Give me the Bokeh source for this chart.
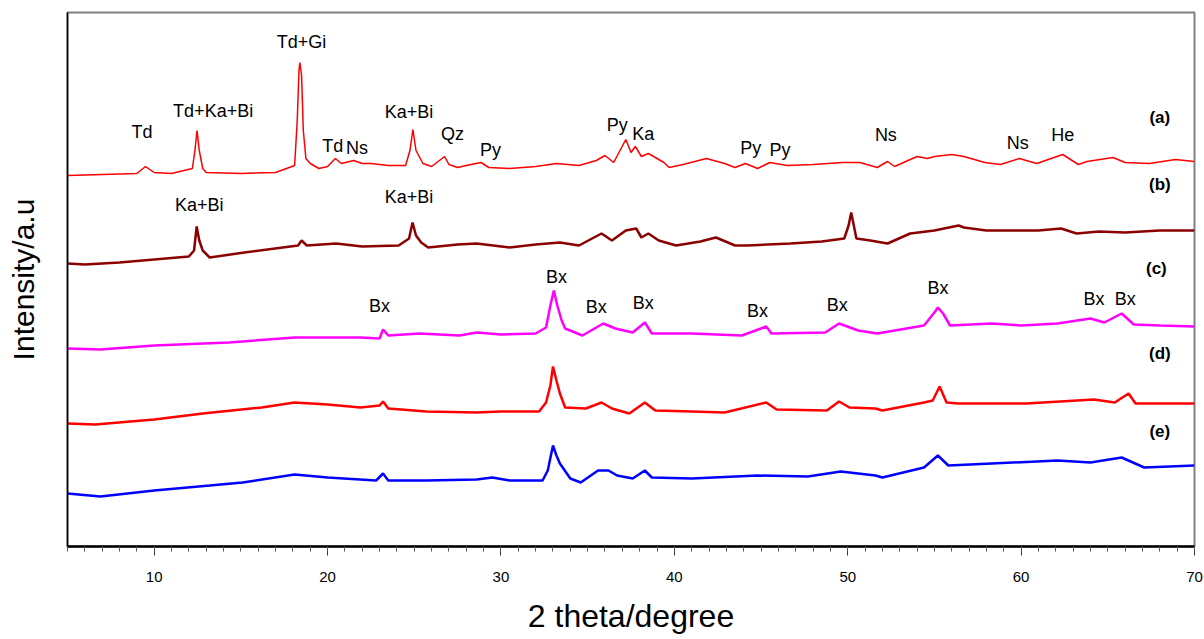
from bokeh.plotting import figure
from bokeh.models import Range1d, FixedTicker, ColumnDataSource
from bokeh.core.properties import value
from bokeh.embed import file_html
from bokeh.resources import INLINE

# ---- data (2theta in degree, intensity in a.u. incl. vertical offset) ----
xa = [5, 7, 9, 9.5, 10, 11, 12.2, 12.35, 12.47, 12.6, 12.8, 13, 15, 17, 18.1, 18.25, 18.35, 18.4, 18.5, 18.6, 18.75,
      19.0, 19.5, 20.0, 20.45, 20.8, 21.5, 22.0, 22.5, 23.5, 24.5, 24.75, 24.92, 25.1, 25.5, 26.0, 26.75, 27.0, 27.5,
      28.0, 28.85, 29.3, 30.5, 32, 33.2, 34.5, 35.5, 36.0, 36.5, 37.2, 37.5, 37.75, 38.1, 38.5, 39.4, 39.7, 40.5, 41.85,
      42.9, 43.5, 44.1, 44.8, 45.5, 46.5, 48, 49.7, 50.7, 51.7, 52.3, 52.7, 54.0, 54.6, 55.0, 56.0, 56.7, 57.9, 58.8,
      59.9, 60.9, 62.4, 63.3, 63.8, 65.3, 66.0, 67.4, 68.9, 70]
ya = [371, 372, 373, 380, 374, 373, 378, 396, 416, 396, 378, 374, 373, 374, 381, 426, 476, 484, 471, 416, 388,
      383, 378, 380, 388, 383, 386, 383, 383, 381, 381, 396, 417, 396, 383, 380, 390, 382, 379,
      381, 384, 379, 378, 380, 383, 381, 386, 391, 384, 407, 394, 400, 390, 393, 384, 379, 382, 388,
      383, 379, 383, 378, 384, 381, 382, 384, 384, 379, 385, 380, 390, 388, 390, 392, 390, 384, 382,
      388, 383, 392, 382, 385, 389, 384, 383, 387, 385]

xb = [5, 6, 8, 10, 12, 12.3, 12.45, 12.6, 12.8, 13.2, 15.2, 18.3, 18.5, 18.8, 20.5, 22, 24.1, 24.7, 24.9, 25.1, 25.4,
      25.8, 27.5, 28.6, 30.5, 32, 33.4, 34.5, 35.8, 36.4, 37.2, 37.8, 38.1, 38.5, 39.1, 40.1, 41.5, 42.4, 43.5, 44.2,
      46.7, 48.5, 49.8, 50.05, 50.2, 50.35, 50.5, 51.3, 52.3, 53.6, 55, 56.4, 56.7, 58, 59.2, 61, 62.3, 63.2, 64.5,
      66.0, 68, 70]
yb = [283, 282, 284, 287, 290, 296, 320, 306, 296, 289, 294, 301, 306, 301, 303, 300, 301, 308, 324, 311, 304,
      299, 302, 303, 299, 302, 304, 301, 313, 306, 316, 318, 309, 313, 306, 301, 305, 309, 301, 301,
      303, 305, 308, 321, 334, 321, 308, 306, 303, 313, 316, 321, 319, 316, 316, 316, 318, 313, 315,
      314, 316, 316]

xc = [5, 6.9, 10, 14.3, 18.1, 21.9, 23.0, 23.2, 23.5, 25.3, 27.6, 28.6, 30, 32.0, 32.6, 32.85, 33.05, 33.25, 33.5,
      33.7, 34.7, 35.9, 36.6, 37.6, 38.3, 38.7, 41.0, 43.9, 45.3, 45.6, 48.7, 49.5, 50.6, 51.7, 54.4, 55.0, 55.2,
      55.5, 55.9, 58.3, 60, 62.1, 64.0, 64.8, 65.8, 66.5, 68, 70]
yc = [198, 197, 201, 204, 209, 209, 208, 217, 211, 213, 211, 214, 212, 213, 219, 241, 256, 241, 226,
      218, 211, 223, 218, 214, 224, 213, 213, 211, 220, 213, 214, 223, 216, 213, 221, 234, 239,
      233, 221, 223, 221, 223, 228, 224, 233, 222, 221, 220]

xd = [5, 6.6, 10, 12.8, 16.2, 18.1, 20, 21.9, 23.0, 23.2, 23.5, 25.7, 28.6, 30, 32.2, 32.6, 32.85, 33.0, 33.2, 33.4,
      33.7, 34.9, 35.8, 36.4, 37.4, 38.3, 38.9, 41, 42.9, 45.3, 45.9, 48.8, 49.5, 50.1, 51.6, 52.0, 54.4, 54.9, 55.3,
      55.7, 56.4, 60.3, 64.2, 65.4, 66.2, 66.6, 70]
yd = [123, 122, 127, 133, 139, 144, 142, 139, 141, 145, 138, 135, 134, 135, 135, 144, 161, 180, 166, 153,
      139, 138, 144, 138, 133, 144, 136, 135, 134, 144, 137, 136, 145, 139, 138, 136, 144, 146, 160,
      144, 143, 143, 147, 144, 153, 143, 143]

xe = [5, 6.9, 10, 13.2, 15.1, 18.1, 20, 22.8, 23.2, 23.5, 25.7, 28.6, 29.5, 30.5, 32.4, 32.7, 33.0, 33.2, 33.4, 34.0,
      34.6, 35.6, 36.2, 36.7, 37.6, 38.3, 38.7, 41, 44.8, 47.7, 49.6, 51.6, 52, 54.4, 55.2, 55.8, 58.3, 62.1, 64,
      65.8, 67.1, 70]
ye = [53, 50, 56, 61, 64, 72, 69, 66, 73, 66, 66, 67, 69, 66, 66, 76, 101, 91, 83, 68,
      64, 76, 76, 71, 68, 76, 69, 68, 71, 70, 75, 71, 69, 79, 91, 81, 83, 86, 84,
      89, 79, 81]

# peak annotations
peak_text = ["Td", "Td+Ka+Bi", "Td+Gi", "Td", "Ns", "Ka+Bi", "Qz", "Py", "Py", "Ka", "Py", "Py", "Ns", "Ns", "He",
             "Ka+Bi", "Ka+Bi",
             "Bx", "Bx", "Bx", "Bx", "Bx", "Bx", "Bx", "Bx", "Bx"]
peak_x = [9.3, 13.4, 18.5, 20.3, 21.7, 24.7, 27.2, 29.4, 36.7, 38.2, 44.4, 46.1, 52.2, 59.8, 62.4,
          12.6, 24.7,
          23.0, 33.2, 35.5, 38.2, 44.8, 49.4, 55.2, 64.2, 66.0]
peak_y = [415, 436, 505, 401, 399, 435, 413, 397, 422, 413, 399, 397, 412, 404, 412,
          342, 350,
          241, 270, 240, 244, 236, 242, 259, 248, 248]

series_names = ["(a)", "(b)", "(c)", "(d)", "(e)"]
series_x = [68.0, 68.0, 67.8, 68.0, 68.0]
series_y = [429, 362, 278, 193, 115]

# ---- figure ----
p = figure(width=1204, height=639, output_backend="svg", toolbar_location=None,
           x_range=Range1d(5, 70), y_range=Range1d(0, 534),
           min_border_left=67, min_border_right=10, min_border_top=12, min_border_bottom=93)
p.background_fill_color = "white"
p.border_fill_color = "white"
p.grid.visible = False
p.outline_line_color = "#808080"
p.outline_line_width = 2

# y axis: line + label only
p.yaxis.ticker = FixedTicker(ticks=[])
p.yaxis.axis_line_color = "black"
p.yaxis.axis_line_width = 1.5
p.yaxis.major_tick_out = 0
p.yaxis.minor_tick_out = 0
p.yaxis.major_label_text_font_size = "0px"
p.yaxis.axis_label = "Intensity/a.u"
p.yaxis.axis_label_text_font = "Liberation Sans"
p.yaxis.axis_label_text_font_size = "30px"
p.yaxis.axis_label_text_font_style = "normal"
p.yaxis.axis_label_text_color = "black"
p.yaxis.axis_label_standoff = 28

# x axis
p.xaxis.ticker = FixedTicker(ticks=[10, 20, 30, 40, 50, 60, 70],
                             minor_ticks=list(range(5, 71)))
p.xaxis.axis_line_width = 2.5
p.xaxis.axis_line_color = "black"
p.xaxis.major_tick_out = 9
p.xaxis.major_tick_in = 0
p.xaxis.minor_tick_out = 5
p.xaxis.minor_tick_in = 0
p.xaxis.major_tick_line_color = "#333333"
p.xaxis.minor_tick_line_color = "#555555"
p.xaxis.major_label_text_font = "Liberation Sans"
p.xaxis.major_label_text_font_size = "15px"
p.xaxis.major_label_text_color = "black"
p.xaxis.major_label_standoff = 16
p.xaxis.axis_label = "2 theta/degree"
p.xaxis.axis_label_text_font = "Liberation Sans"
p.xaxis.axis_label_text_font_size = "32px"
p.xaxis.axis_label_text_font_style = "normal"
p.xaxis.axis_label_text_color = "black"
p.xaxis.axis_label_standoff = 13

# traces
p.line(xa, ya, line_color="#FF0000", line_width=1.5)
p.line(xb, yb, line_color="#8B0000", line_width=2.5)
p.line(xc, yc, line_color="#FF00FF", line_width=2.5)
p.line(xd, yd, line_color="#FF0000", line_width=2.5)
p.line(xe, ye, line_color="#0000FF", line_width=2.5)

# annotations
src = ColumnDataSource(dict(x=peak_x, y=peak_y, t=peak_text))
p.text(x="x", y="y", text="t", source=src, text_align="center", text_baseline="middle",
       text_font=value("Liberation Sans"), text_font_size="18px", text_color="black")
src2 = ColumnDataSource(dict(x=series_x, y=series_y, t=series_names))
p.text(x="x", y="y", text="t", source=src2, text_align="center", text_baseline="middle",
       text_font=value("Liberation Sans"), text_font_size="17px", text_font_style="bold",
       text_color="black")

open("out.html", "w").write(file_html(p, INLINE))
